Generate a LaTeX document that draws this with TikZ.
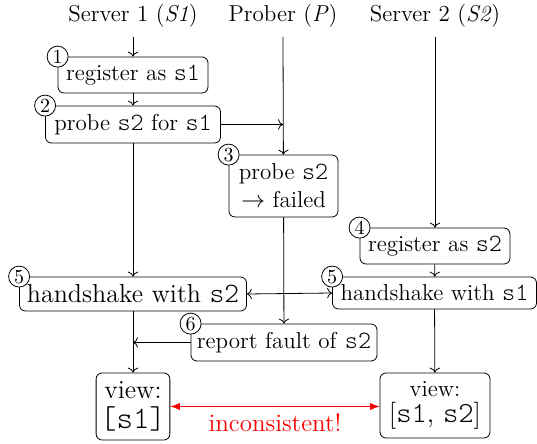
\documentclass[tikz,border=0pt]{standalone}
\usepackage{fontspec}
\setmonofont[Scale=1.08]{Latin Modern Mono Light}
\usepackage{tikz}
\usetikzlibrary{arrows.meta, positioning, calc}
\tikzset{
    lanelabel/.style={font=\fontsize{11.5}{14}\selectfont},
    stepbox/.style={rectangle, rounded corners=3pt, draw, fill=white, inner xsep=2pt,
        inner ysep=1pt, minimum height=18pt, align=center, font=\fontsize{11.5}{14}\selectfont},
    bigstepbox/.style={stepbox, font=\fontsize{13}{16}\selectfont},
    stepnum/.style={circle, draw, fill=white, inner sep=0pt, minimum size=10.5pt,
        font=\fontsize{10}{10}\selectfont},
    flowarrow/.style={-{To}},
    clasharrow/.style={{Latex}-{Latex}, red},
}

\begin{document}
\begin{tikzpicture}[x=0.5pt, y=-0.5pt]
    \useasboundingbox (0,0) rectangle (537,444);

    % lanes
    \node[lanelabel] (lane1) at (133,16) {Server 1 (\textit{S1})};
    \node[lanelabel] (laneP) at (283,16) {Prober (\textit{P})};
    \node[lanelabel] (lane2) at (435,16) {Server 2 (\textit{S2})};
    \coordinate (s1top) at (133,37);
    \coordinate (ptop) at (283,37);
    \coordinate (s2top) at (435,37);

    % steps
    \node[stepbox, minimum width=75pt] (reg1) at (133,75) {register as \texttt{s1}};
    \node[stepbox, minimum width=87.5pt, minimum height=18.5pt] (probe1) at (133,124.5) {probe \texttt{s2} for \texttt{s1}};
    \node[stepbox, minimum width=54.5pt, minimum height=31pt] (probeP) at (283.5,186) {probe \texttt{s2}\\$\rightarrow$ failed};
    \node[stepbox, minimum width=75pt] (reg2) at (435,246) {register as \texttt{s2}};
    \node[bigstepbox, minimum width=113.5pt, minimum height=17pt] (hs1) at (133,294) {handshake with \texttt{s2}};
    \node[stepbox, minimum width=102pt, minimum height=16pt] (hs2) at (434.5,293) {handshake with \texttt{s1}};
    \node[stepbox, minimum width=93pt, minimum height=18.5pt] (report) at (284,342.5) {report fault of \texttt{s2}};
    \node[bigstepbox, minimum width=36.5pt, minimum height=33.5pt] (view1) at (133,406.5)
        {view:\\[-1pt]{\fontsize{14.5}{16}\selectfont\texttt{[s1]}}};
    \node[stepbox, minimum width=55pt, minimum height=32.5pt] (view2) at (435,405.5)
        {view:\\[-1pt]{\fontsize{13.5}{16}\selectfont[\texttt{s1}, \texttt{s2}]}};

    % step numbers
    \node[stepnum] (n1) at (reg1.north west) {1};
    \node[stepnum] (n2) at (probe1.north west) {2};
    \node[stepnum] (n3) at (probeP.north west) {3};
    \node[stepnum] (n4) at (reg2.north west) {4};
    \node[stepnum] (n5a) at (hs1.north west) {5};
    \node[stepnum] (n5b) at (hs2.north west) {5};
    \node[stepnum] (n6) at (report.north west) {6};

    % flow
    \draw[flowarrow] (s1top) -- (reg1);
    \draw[flowarrow] (reg1) -- (probe1);
    \draw[flowarrow] (probe1.east) -- (probe1.east -| ptop);
    \draw[flowarrow] (ptop) -- (probeP);
    \draw[flowarrow] (probe1) -- (hs1);
    \draw[flowarrow] (s2top) -- (reg2);
    \draw[flowarrow] (reg2) -- (hs2);
    \draw[flowarrow] (probeP) -- (report);
    \draw[{To}-{To}] (hs1.east) -- (hs2.west);
    \draw[flowarrow] (report.west) -- (report.west -| hs1.south);
    \draw[flowarrow] (hs1) -- (view1);
    \draw[flowarrow] (hs2) -- (view2);

    \draw[clasharrow] (view1.east) -- (view1.east -| view2.west)
        node[midway, below=0pt, font=\fontsize{12.5}{14}\selectfont] (clash) {inconsistent!};
\end{tikzpicture}
\end{document}
